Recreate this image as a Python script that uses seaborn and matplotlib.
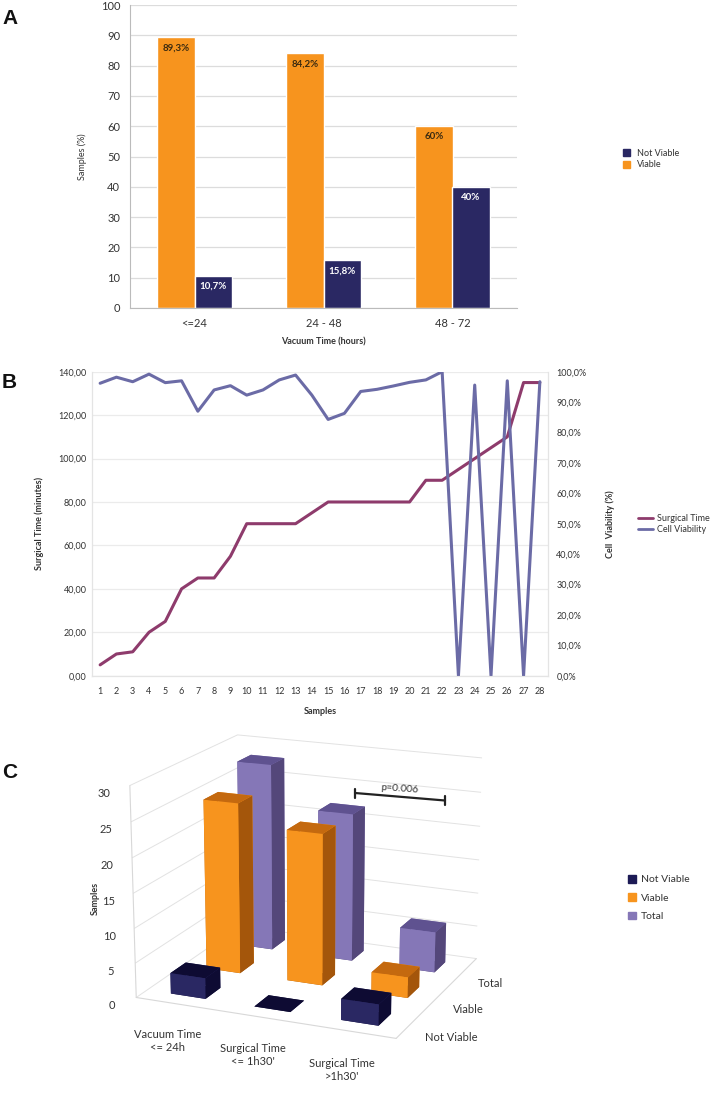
import numpy as np
import pandas as pd
import matplotlib
matplotlib.use("Agg")
import matplotlib.pyplot as plt
import seaborn as sns
from matplotlib.lines import Line2D
from matplotlib.patches import Patch
from matplotlib.ticker import FuncFormatter, FixedLocator

# ---------------- data ----------------
# Panel A
vac_categories = ['<=24', '24 - 48', '48 - 72']
vac_viable = [89.3, 84.2, 60.0]
vac_not_viable = [10.7, 15.8, 40.0]

# Panel B
samples = list(range(1, 29))
surgical_time = [5, 10, 11, 20, 25, 40, 45, 45, 55, 70, 70, 70, 70, 75, 80,
                 80, 80, 80, 80, 80, 90, 90, 95, 100, 105, 110, 135, 135]
cell_viability = [96.2, 98.2, 96.7, 99.2, 96.4, 97.0, 87.0, 94.0, 95.4, 92.3,
                  94.0, 97.3, 98.9, 92.3, 84.3, 86.3, 93.5, 94.2, 95.3, 96.5,
                  97.3, 100.0, 0.0, 95.6, 0.0, 97.0, 0.0, 96.7]

# Panel C
groups = ['Vacuum Time\n<= 24h', "Surgical Time\n<= 1h30'", "Surgical Time\n>1h30'"]
series = ['Not Viable', 'Viable', 'Total']
c_not_viable = [3, 0, 3]
c_viable = [25, 22, 3]
c_total = [28, 22, 6]

# ---------------- style ----------------
ORANGE = '#F7941E'
NAVY = '#2A2863'
MAROON = '#8E3B6C'
LAVBLUE = '#6B6BA6'
GRID = '#DCDCDC'
TXT = '#333333'

sns.set_theme(style='white')
plt.rcParams['font.family'] = ['Lato', 'DejaVu Sans']
plt.rcParams['text.color'] = TXT
plt.rcParams['axes.labelcolor'] = TXT
plt.rcParams['xtick.color'] = TXT
plt.rcParams['ytick.color'] = TXT

W, H = 714, 1100
fig = plt.figure(figsize=(W / 100, H / 100), dpi=100)


def rect(x0, y0, x1, y1):
    return [x0 / W, 1 - y1 / H, (x1 - x0) / W, (y1 - y0) / H]


def fmt_pct(v):
    if float(v).is_integer():
        return f"{int(v)}%"
    return f"{v:.1f}".replace('.', ',') + '%'


# ---------------- Panel C (3D bars) : drawn first, transparent background ----------------
ax3 = fig.add_axes(rect(16, 684, 596, 1079), projection='3d')
ax3.set_facecolor((1, 1, 1, 0))
ax3.patch.set_alpha(0)
ax3.set_proj_type('persp', focal_length=0.85)
ax3.view_init(elev=17, azim=-67)

face_cols = {
    'Not Viable': ['#120F3A', '#0E0B33', NAVY, NAVY, '#16134A', '#0E0B33'],
    'Viable': ['#A0550C', '#C4690F', ORANGE, ORANGE, '#C4690F', '#A4560B'],
    'Total': ['#4E4270', '#5F5290', '#8577B7', '#8577B7', '#5F5290', '#54477A'],
}
vals = {'Not Viable': c_not_viable, 'Viable': c_viable, 'Total': c_total}
bw, bd = 0.42, 0.42
xs, ys, dzs, cols = [], [], [], []
for j, sname in enumerate(series):
    for i in range(len(groups)):
        xs.append(i - bw / 2)
        ys.append(j - bd / 2)
        dzs.append(vals[sname][i])
        cols.extend(face_cols[sname])
n = len(xs)
ax3.bar3d(xs, ys, np.zeros(n), np.full(n, bw), np.full(n, bd), dzs,
          color=cols, shade=False, edgecolor='none', linewidth=0)

ax3.set_xlim(-0.5, 2.5)
ax3.set_ylim(-0.5, 2.5)
ax3.set_zlim(0, 30)
ax3.set_xticks(range(len(groups)))
ax3.set_xticklabels(groups, fontsize=8, ha='center', va='top')
ax3.set_yticks(range(len(series)))
ax3.set_yticklabels(series, fontsize=8, ha='left', va='center')
ax3.set_zticks(range(0, 31, 5))
ax3.zaxis.set_ticks_position('lower')
ax3.tick_params(axis='z', labelsize=8, pad=2)
ax3.tick_params(axis='x', pad=5)
ax3.tick_params(axis='y', pad=0)
ax3.set_box_aspect((3.3, 2.9, 2.6), zoom=1.04)
for axis in (ax3.xaxis, ax3.yaxis, ax3.zaxis):
    axis.set_pane_color((1, 1, 1, 0))
    axis.pane.set_edgecolor('#E2E2E2')
    axis.line.set_color('#D8D8D8')
    axis.line.set_linewidth(0.8)
ax3.xaxis._axinfo['grid']['color'] = (1, 1, 1, 0)
ax3.yaxis._axinfo['grid']['color'] = (1, 1, 1, 0)
ax3.zaxis._axinfo['grid']['color'] = '#E2E2E2'
ax3.zaxis._axinfo['grid']['linewidth'] = 0.7
for axis in (ax3.xaxis, ax3.yaxis, ax3.zaxis):
    axis._axinfo['tick']['inward_factor'] = 0
    axis._axinfo['tick']['outward_factor'] = 0

# ---------------- Panel A ----------------
axA = fig.add_axes(rect(130, 5, 517, 308))
dfA = pd.DataFrame({
    'cat': vac_categories * 2,
    'status': ['Viable'] * 3 + ['Not Viable'] * 3,
    'value': vac_viable + vac_not_viable,
})
sns.barplot(data=dfA, x='cat', y='value', hue='status',
            hue_order=['Viable', 'Not Viable'],
            palette={'Viable': ORANGE, 'Not Viable': NAVY},
            width=0.575, saturation=1, ax=axA, legend=False)
axA.set_ylim(0, 100)
axA.set_xlim(-0.5, 2.5)
axA.set_yticks(range(0, 101, 10))
axA.yaxis.grid(True, color=GRID, lw=0.9)
axA.set_axisbelow(True)
for s in ['top', 'right']:
    axA.spines[s].set_visible(False)
for s in ['left', 'bottom']:
    axA.spines[s].set_color('#BBBBBB')
    axA.spines[s].set_linewidth(0.8)
axA.tick_params(axis='y', labelsize=8, length=3, color='#BBBBBB', pad=4)
axA.tick_params(axis='x', which='major', labelsize=8, length=0, pad=7)
axA.xaxis.set_minor_locator(FixedLocator([-0.5, 0.5, 1.5, 2.5]))
axA.tick_params(axis='x', which='minor', length=3, color='#BBBBBB')
axA.set_ylabel('Samples (%)', fontsize=6.5, labelpad=10)
axA.set_xlabel('Vacuum Time (hours)', fontsize=6.5, fontweight='bold', labelpad=6)
axA.bar_label(axA.containers[0], labels=[fmt_pct(v) for v in vac_viable],
              padding=-11, fontsize=7, fontweight='bold', color='#3A2A10')
axA.bar_label(axA.containers[1], labels=[fmt_pct(v) for v in vac_not_viable],
              padding=-11, fontsize=7, fontweight='bold', color='white')
fig.legend(handles=[Patch(color=NAVY, label='Not Viable'),
                    Patch(color=ORANGE, label='Viable')],
           loc='center left', bbox_to_anchor=(615 / W, 1 - 159 / H),
           frameon=False, fontsize=6.5, handlelength=0.75, handleheight=0.75,
           handletextpad=0.8, labelspacing=0.3)
fig.text(2 / W, 1 - 18 / H, 'A', fontsize=15, fontweight='bold',
         family=['Liberation Sans', 'DejaVu Sans'], va='center', color='#111111')

# ---------------- Panel B ----------------
axB = fig.add_axes(rect(92, 371.7, 548, 675.7))
sns.lineplot(x=samples, y=surgical_time, ax=axB, color=MAROON, lw=2.2)
axB2 = axB.twinx()
sns.lineplot(x=samples, y=cell_viability, ax=axB2, color=LAVBLUE, lw=2.2)
axB.set_xlim(0.5, 28.5)
axB.set_ylim(0, 140)
axB2.set_ylim(0, 100)
axB.set_yticks(range(0, 141, 20))
axB2.set_yticks(range(0, 101, 10))
axB.yaxis.set_major_formatter(FuncFormatter(lambda v, p: f"{v:.2f}".replace('.', ',')))
axB2.yaxis.set_major_formatter(FuncFormatter(lambda v, p: f"{v:.1f}".replace('.', ',') + '%'))
axB.set_xticks(samples)
axB.xaxis.set_minor_locator(FixedLocator(np.arange(0.5, 29, 1)))
axB.tick_params(axis='x', which='major', length=0, labelsize=6.5, pad=8)
axB.tick_params(axis='x', which='minor', length=3, color='#DDDDDD')
axB.tick_params(axis='y', labelsize=6.5, length=0, pad=4)
axB2.tick_params(axis='y', labelsize=6.5, length=0, pad=6)
axB.yaxis.grid(True, color='#EBEBEB', lw=0.9)
axB.set_axisbelow(True)
for a in (axB, axB2):
    for s in ['top']:
        a.spines[s].set_visible(False)
    for s in ['left', 'right', 'bottom']:
        a.spines[s].set_color('#E4E4E4')
        a.spines[s].set_linewidth(0.8)
axB.set_ylabel('Surgical Time (minutes)', fontsize=6.5, fontweight='bold', labelpad=10)
axB2.set_ylabel('Cell  Viability (%)', fontsize=6.5, fontweight='bold', labelpad=14)
axB.set_xlabel('Samples', fontsize=6.5, fontweight='bold', labelpad=8)
fig.legend(handles=[Line2D([], [], color=MAROON, lw=2, label='Surgical Time'),
                    Line2D([], [], color=LAVBLUE, lw=2, label='Cell Viability')],
           loc='center left', bbox_to_anchor=(630 / W, 1 - 524 / H),
           frameon=False, fontsize=6.5, handlelength=1.6, handletextpad=0.5,
           labelspacing=0.25)
fig.text(2 / W, 1 - 382 / H, 'B', fontsize=15, fontweight='bold',
         family=['Liberation Sans', 'DejaVu Sans'], va='center', color='#111111')

# ---------------- Panel C overlays ----------------
fig.text(95 / W, 1 - 898 / H, 'Samples', rotation=90, fontsize=6.5,
         fontweight='bold', ha='center', va='center')

x1, y1, x2, y2 = 355, 793, 445, 800.5
fig.add_artist(Line2D([x1 / W, x2 / W], [1 - y1 / H, 1 - y2 / H],
                      color='#222222', lw=1.6, transform=fig.transFigure))
for xx, yy in ((x1, y1), (x2, y2)):
    fig.add_artist(Line2D([xx / W, xx / W], [1 - (yy - 4.5) / H, 1 - (yy + 4.5) / H],
                          color='#222222', lw=1.6, transform=fig.transFigure))
fig.text(400 / W, 1 - 789 / H, 'p=0.006', fontsize=7.5, ha='center',
         va='center', rotation=-4)

fig.legend(handles=[Patch(color='#1C1A55', label='Not Viable'),
                    Patch(color=ORANGE, label='Viable'),
                    Patch(color='#8577B7', label='Total')],
           loc='center left', bbox_to_anchor=(619 / W, 1 - 898 / H),
           frameon=False, fontsize=7.5, handlelength=0.7, handleheight=0.7,
           handletextpad=0.5, labelspacing=0.85)
fig.text(2 / W, 1 - 772 / H, 'C', fontsize=15, fontweight='bold',
         family=['Liberation Sans', 'DejaVu Sans'], va='center', color='#111111')

fig.savefig('out.png', dpi=100, facecolor='white')
